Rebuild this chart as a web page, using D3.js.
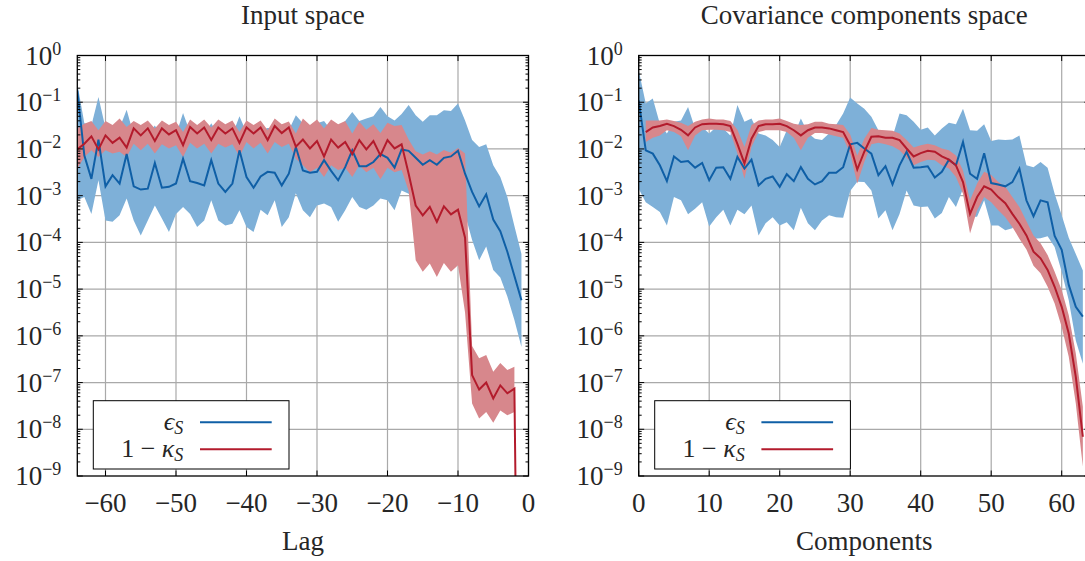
<!DOCTYPE html>
<html>
<head>
<meta charset="utf-8">
<script src="https://cdn.jsdelivr.net/npm/d3@7"></script>
<style>
  body { margin: 0; background: #fff; }
</style>
</head>
<body>
<svg id="chart" width="1085" height="561"></svg>
<script>
// all series values are stored as log10 of the plotted quantity

// ---- Input space (lag -64 .. -1) ----
const lags = d3.range(-64, 0);
const lagsBand = d3.range(-64, -1);

const inEpsLine = [-0.75,-2.14,-2.64,-1.80,-2.80,-2.56,-2.74,-2.11,-2.80,-2.87,-2.85,-2.30,-2.83,-2.81,-2.74,-2.21,
  -2.69,-2.73,-2.78,-2.24,-2.74,-2.92,-2.74,-2.03,-2.60,-2.83,-2.59,-2.49,-2.51,-2.78,-2.53,-1.96,
  -2.46,-2.51,-2.49,-2.24,-2.47,-2.67,-2.39,-2.03,-2.37,-2.37,-2.28,-2.11,-2.19,-2.40,-2.01,
  -2.04,-2.19,-2.34,-2.24,-2.34,-2.19,-2.16,-2.04,
  -2.53,-2.92,-3.23,-2.97,-3.51,-3.76,-4.20,-4.72,-5.24];
const inEpsHi = [-0.60,-1.45,-1.50,-0.89,-1.55,-1.60,-1.55,-1.16,-1.70,-1.75,-1.70,-1.50,-1.75,-1.75,-1.70,-1.23,
  -1.65,-1.70,-1.70,-1.45,-1.70,-1.80,-1.70,-1.30,-1.65,-1.75,-1.60,-1.55,-1.55,-1.70,-1.60,-1.28,
  -1.45,-1.50,-1.45,-1.40,-1.60,-1.55,-1.40,-1.21,-1.40,-1.35,-1.30,-1.10,-1.30,-1.39,-1.25,
  -1.06,-1.28,-1.42,-1.28,-1.28,-1.17,-1.19,-1.03,
  -1.39,-1.81,-1.96,-1.90,-2.35,-2.60,-3.03,-3.65,-4.25];
const inEpsLo = [-3.10,-3.03,-3.39,-2.67,-3.53,-3.56,-3.42,-3.06,-3.53,-3.85,-3.53,-3.21,-3.49,-3.78,-3.39,-3.24,
  -3.39,-3.67,-3.53,-3.10,-3.53,-3.64,-3.60,-3.31,-3.67,-3.78,-3.30,-3.42,-3.10,-3.67,-3.46,-2.95,
  -3.31,-3.46,-3.21,-3.17,-3.24,-3.56,-3.31,-3.03,-3.24,-3.30,-3.21,-3.06,-3.10,-3.31,-2.89,
  -2.96,-3.10,-3.20,-3.10,-3.20,-3.05,-3.00,-2.95,
  -3.40,-3.95,-4.38,-4.09,-4.59,-4.75,-5.16,-5.66,-6.24];

const inKapLine = [-2.01,-1.89,-1.73,-2.01,-1.71,-1.87,-1.76,-1.97,-1.56,-1.71,-1.56,-1.83,-1.56,-1.69,-1.60,-1.92,
  -1.53,-1.67,-1.54,-1.81,-1.54,-1.67,-1.56,-1.87,-1.54,-1.67,-1.54,-1.81,-1.51,-1.66,-1.54,-1.95,
  -1.80,-1.99,-1.83,-2.16,-1.80,-1.97,-1.85,-2.11,-1.81,-2.01,-1.83,-2.14,-1.81,-1.99,-1.90,
  -2.53,-3.21,-3.42,-3.24,-3.56,-3.23,-3.40,-3.30,
  -3.90,-6.84,-7.15,-7.00,-7.34,-7.06,-7.23,-7.13,-20];
const inKapHi = [-1.56,-1.46,-1.40,-1.60,-1.40,-1.49,-1.35,-1.53,-1.40,-1.49,-1.39,-1.56,-1.39,-1.49,-1.42,-1.64,
  -1.37,-1.49,-1.37,-1.54,-1.37,-1.47,-1.39,-1.64,-1.39,-1.49,-1.39,-1.60,-1.35,-1.47,-1.41,-1.67,
  -1.35,-1.49,-1.37,-1.56,-1.37,-1.47,-1.40,-1.67,-1.42,-1.59,-1.47,-1.66,-1.44,-1.51,-1.49,
  -1.80,-2.05,-2.12,-2.05,-2.12,-2.02,-2.08,-1.98,-2.10,
  -6.22,-6.48,-6.41,-6.77,-6.58,-6.73,-6.66];
const inKapLo = [-2.42,-2.17,-2.03,-2.17,-2.03,-2.10,-2.06,-2.17,-1.89,-2.03,-1.89,-2.10,-1.90,-1.99,-1.92,-2.17,
  -1.87,-1.99,-1.89,-2.10,-1.89,-1.97,-1.90,-2.16,-1.85,-1.99,-1.87,-2.10,-1.85,-1.96,-1.89,-2.21,
  -2.35,-2.50,-2.40,-2.60,-2.35,-2.45,-2.40,-2.60,-2.35,-2.50,-2.40,-2.65,-2.40,-2.50,-2.45,
  -2.90,-4.38,-4.63,-4.45,-4.74,-4.44,-4.63,-4.49,-5.50,
  -7.45,-7.77,-7.63,-7.86,-7.60,-7.70,-7.63];

// ---- Covariance components space (component 0 .. 63) ----
const comps = d3.range(0, 64);
const compsRed = d3.range(1, 64);

const covEpsLine = [-0.96,-2.03,-2.10,-2.35,-2.69,-2.16,-2.28,-2.26,-2.40,-2.30,
  -2.67,-2.40,-2.39,-2.64,-2.17,-2.42,-2.23,-2.78,-2.64,-2.59,
  -2.81,-2.54,-2.69,-2.39,-2.64,-2.76,-2.69,-2.51,-2.51,-2.39,
  -1.90,-1.87,-1.99,-2.10,-2.56,-2.37,-2.76,-2.35,-2.06,-2.40,
  -2.39,-2.37,-2.61,-2.49,-2.23,-2.35,-1.85,-2.53,-2.64,-2.09,
  -2.73,-2.76,-2.80,-2.71,-2.42,-3.10,-3.44,-3.10,-3.14,-3.86,
  -4.16,-4.91,-5.38,-5.59];
const covEpsHi = [-0.31,-1.03,-0.92,-1.46,-1.67,-1.42,-1.39,-1.10,-1.56,-1.53,
  -1.67,-1.53,-1.56,-1.71,-1.06,-1.42,-1.35,-1.67,-1.71,-1.81,
  -1.96,-1.60,-1.71,-1.35,-1.66,-1.78,-1.81,-1.67,-1.49,-1.24,
  -0.90,-1.03,-1.14,-1.31,-1.60,-1.67,-1.74,-1.24,-1.28,-1.42,
  -1.59,-1.54,-1.71,-1.56,-1.44,-1.47,-1.14,-1.60,-1.61,-1.47,
  -1.83,-1.80,-1.81,-1.80,-1.71,-2.35,-2.39,-2.28,-2.40,-2.96,
  -3.42,-3.90,-4.25,-4.60];
const covEpsLo = [-2.85,-3.14,-3.24,-3.35,-3.64,-3.03,-3.10,-3.40,-3.28,-3.14,
  -3.66,-3.46,-3.30,-3.64,-3.30,-3.40,-3.21,-3.85,-3.59,-3.46,
  -3.64,-3.57,-3.74,-3.26,-3.59,-3.74,-3.53,-3.42,-3.46,-3.47,
  -2.90,-2.70,-2.71,-2.89,-3.49,-3.31,-3.74,-3.39,-2.89,-3.21,
  -3.24,-3.23,-3.49,-3.37,-3.03,-3.24,-2.85,-3.45,-3.45,-3.10,
  -3.64,-3.64,-3.74,-3.70,-3.46,-3.78,-3.92,-3.91,-3.87,-4.10,
  -4.63,-5.24,-6.10,-6.60];

const covKapLine = [-1.64,-1.54,-1.51,-1.46,-1.51,-1.59,-1.71,-1.54,-1.47,-1.46,
  -1.46,-1.47,-1.51,-1.89,-2.31,-1.78,-1.51,-1.47,-1.47,-1.46,
  -1.51,-1.60,-1.71,-1.60,-1.54,-1.54,-1.56,-1.60,-1.64,-1.92,
  -2.44,-2.06,-1.74,-1.73,-1.76,-1.76,-1.81,-1.99,-2.16,-2.09,
  -2.04,-2.06,-2.16,-2.23,-2.35,-2.71,-3.39,-3.03,-2.80,-2.87,
  -3.03,-3.16,-3.39,-3.60,-3.85,-4.20,-4.34,-4.59,-4.95,-5.38,
  -5.95,-6.88,-8.16];
const covKapHi = [-1.39,-1.39,-1.39,-1.37,-1.40,-1.44,-1.51,-1.42,-1.37,-1.35,
  -1.37,-1.37,-1.40,-1.59,-1.96,-1.49,-1.39,-1.37,-1.37,-1.35,
  -1.40,-1.46,-1.49,-1.47,-1.42,-1.42,-1.46,-1.47,-1.49,-1.69,
  -2.14,-1.78,-1.55,-1.59,-1.60,-1.61,-1.67,-1.81,-1.97,-1.92,
  -1.89,-1.92,-1.99,-2.03,-2.14,-2.46,-3.10,-2.74,-2.49,-2.56,
  -2.71,-2.81,-3.03,-3.24,-3.55,-3.85,-4.02,-4.27,-4.63,-5.02,
  -5.56,-6.38,-7.52];
const covKapLo = [-1.85,-1.76,-1.71,-1.60,-1.64,-1.73,-2.03,-1.71,-1.60,-1.59,
  -1.59,-1.60,-1.64,-2.10,-2.64,-1.96,-1.64,-1.60,-1.60,-1.60,
  -1.64,-1.76,-2.03,-1.76,-1.66,-1.66,-1.69,-1.73,-1.76,-2.10,
  -2.74,-2.28,-1.90,-1.87,-1.90,-1.94,-2.03,-2.19,-2.35,-2.28,
  -2.23,-2.24,-2.35,-2.42,-2.60,-2.96,-3.81,-3.31,-3.03,-3.14,
  -3.31,-3.46,-3.67,-3.92,-4.15,-4.50,-4.66,-4.95,-5.31,-5.81,
  -6.45,-7.45,-8.80];

// ---- ticks and labels ----
const yTickExps = [0, -1, -2, -3, -4, -5, -6, -7, -8, -9];
const lagTicks = [-60, -50, -40, -30, -20, -10, 0];
const compTicks = [0, 10, 20, 30, 40, 50, 60];

const BLUE = '#0f5fa6', BLUE_FILL = '#7eb0d8';
const RED = '#b31b2c', RED_FILL = '#d7878c';
const FONT = "'Liberation Serif', 'DejaVu Serif', 'Times New Roman', Times, serif";

const svg = d3.select('#chart').attr('font-family', FONT);
const plotTop = 55.5, plotBottom = 476, unit = 7.05;

function band(xs, hi, lo) {
    return xs.map((x, i) => ({ x: x, hi: 10 ** hi[i], lo: 10 ** lo[i] }));
}
function pts(xs, vals) {
    return xs.map((x, i) => ({ x: x, v: 10 ** vals[i] }));
}
function label(sel) {
    return sel.attr('font-family', FONT).attr('fill', '#262626');
}

function drawPanel(p) {
    const right = p.left + unit * 64;
    const x = d3.scaleLinear().domain(p.domain).range([p.left, right]);
    const y = d3.scaleLog().domain([1e-9, 1]).range([plotBottom, plotTop]);
    const g = svg.append('g');

    g.append('clipPath').attr('id', 'clip-' + p.id)
        .append('rect').attr('x', p.left).attr('y', plotTop)
        .attr('width', right - p.left).attr('height', plotBottom - plotTop);

    // grid
    g.selectAll(null).data(p.ticks).enter().append('line')
        .attr('x1', d => x(d)).attr('x2', d => x(d)).attr('y1', plotTop).attr('y2', plotBottom)
        .attr('stroke', '#a9a9a9').attr('stroke-width', 1.2);
    g.selectAll(null).data(yTickExps.slice(1, -1)).enter().append('line')
        .attr('x1', p.left).attr('x2', right).attr('y1', d => y(10 ** d)).attr('y2', d => y(10 ** d))
        .attr('stroke', '#a9a9a9').attr('stroke-width', 1.2);

    const plot = g.append('g').attr('clip-path', `url(#clip-${p.id})`);
    const area = d3.area().x(d => x(d.x)).y0(d => y(d.lo)).y1(d => y(d.hi));
    const line = d3.line().x(d => x(d.x)).y(d => y(d.v));

    plot.append('path').datum(band(p.epsX, p.epsHi, p.epsLo))
        .attr('d', area).attr('fill', BLUE_FILL);
    plot.append('path').datum(band(p.kapBandX, p.kapHi, p.kapLo))
        .attr('d', area).attr('fill', RED_FILL);
    plot.append('path').datum(pts(p.epsX, p.epsLine))
        .attr('d', line).attr('fill', 'none').attr('stroke', BLUE).attr('stroke-width', 2);
    plot.append('path').datum(pts(p.kapX, p.kapLine))
        .attr('d', line).attr('fill', 'none').attr('stroke', RED).attr('stroke-width', 2);

    // ticks (inward)
    const minor = [];
    for (let e = -9; e < 0; e++) for (let m = 2; m <= 9; m++) minor.push(m * 10 ** e);
    const tk = g.append('g').attr('stroke', '#000').attr('stroke-width', 1);
    [p.left, right].forEach((sx, k) => {
        const dir = k === 0 ? 1 : -1;
        tk.selectAll(null).data(minor).enter().append('line')
            .attr('x1', sx).attr('x2', sx + dir * 3).attr('y1', d => y(d)).attr('y2', d => y(d));
        tk.selectAll(null).data(yTickExps).enter().append('line')
            .attr('x1', sx).attr('x2', sx + dir * 5.5).attr('y1', d => y(10 ** d)).attr('y2', d => y(10 ** d));
    });
    [plotTop, plotBottom].forEach((sy, k) => {
        const dir = k === 0 ? 1 : -1;
        tk.selectAll(null).data(p.ticks).enter().append('line')
            .attr('x1', d => x(d)).attr('x2', d => x(d)).attr('y1', sy).attr('y2', sy + dir * 5.5);
    });

    // frame
    g.append('rect').attr('x', p.left).attr('y', plotTop)
        .attr('width', right - p.left).attr('height', plotBottom - plotTop)
        .attr('fill', 'none').attr('stroke', '#000').attr('stroke-width', 1.3);

    // y tick labels
    yTickExps.forEach(e => {
        const t = label(g.append('text')).attr('x', p.left - 16).attr('y', y(10 ** e) + 9)
            .attr('text-anchor', 'end').attr('font-size', 27);
        t.append('tspan').text('10');
        t.append('tspan').attr('dy', -10).attr('font-size', 18)
            .text(e === 0 ? '0' : '\u2212' + (-e));
    });

    // x tick labels
    label(g.selectAll(null).data(p.ticks).enter().append('text'))
        .attr('x', d => x(d)).attr('y', 511.5).attr('text-anchor', 'middle')
        .attr('font-size', 27)
        .text(d => d < 0 ? '\u2212' + (-d) : d);

    const cx = (p.left + right) / 2;
    label(g.append('text')).attr('x', cx).attr('y', 24).attr('text-anchor', 'middle')
        .attr('font-size', 27).text(p.title);
    label(g.append('text')).attr('x', cx).attr('y', 550).attr('text-anchor', 'middle')
        .attr('font-size', 27).text(p.xlabel);

    // legend
    const lg = g.append('g').attr('transform', `translate(${p.left + 16},400.7)`);
    lg.append('rect').attr('width', 195.7).attr('height', 68.3)
        .attr('fill', '#fff').attr('stroke', '#000').attr('stroke-width', 1);
    const t1 = label(lg.append('text')).attr('x', 90).attr('y', 29.5).attr('text-anchor', 'end')
        .attr('font-size', 26);
    t1.append('tspan').attr('font-style', 'italic').text('\u03f5');
    t1.append('tspan').attr('dy', 4).attr('font-size', 18).attr('font-style', 'italic').text('S');
    const t2 = label(lg.append('text')).attr('x', 90).attr('y', 56).attr('text-anchor', 'end')
        .attr('font-size', 26);
    t2.append('tspan').text('1 \u2212 ');
    t2.append('tspan').attr('font-style', 'italic').text('\u03ba');
    t2.append('tspan').attr('dy', 4).attr('font-size', 18).attr('font-style', 'italic').text('S');
    lg.append('line').attr('x1', 106.7).attr('x2', 178.4).attr('y1', 21.6).attr('y2', 21.6)
        .attr('stroke', BLUE).attr('stroke-width', 2);
    lg.append('line').attr('x1', 106.7).attr('x2', 178.4).attr('y1', 48.6).attr('y2', 48.6)
        .attr('stroke', RED).attr('stroke-width', 2);
}

drawPanel({
    id: 'input', left: 77.3, domain: [-64, 0], ticks: lagTicks,
    title: 'Input space', xlabel: 'Lag',
    epsX: lags, epsLine: inEpsLine, epsHi: inEpsHi, epsLo: inEpsLo,
    kapX: lags, kapLine: inKapLine, kapBandX: lagsBand, kapHi: inKapHi, kapLo: inKapLo
});
drawPanel({
    id: 'cov', left: 638.7, domain: [0, 64], ticks: compTicks,
    title: 'Covariance components space', xlabel: 'Components',
    epsX: comps, epsLine: covEpsLine, epsHi: covEpsHi, epsLo: covEpsLo,
    kapX: compsRed, kapLine: covKapLine, kapBandX: compsRed, kapHi: covKapHi, kapLo: covKapLo
});
</script>
</body>
</html>
